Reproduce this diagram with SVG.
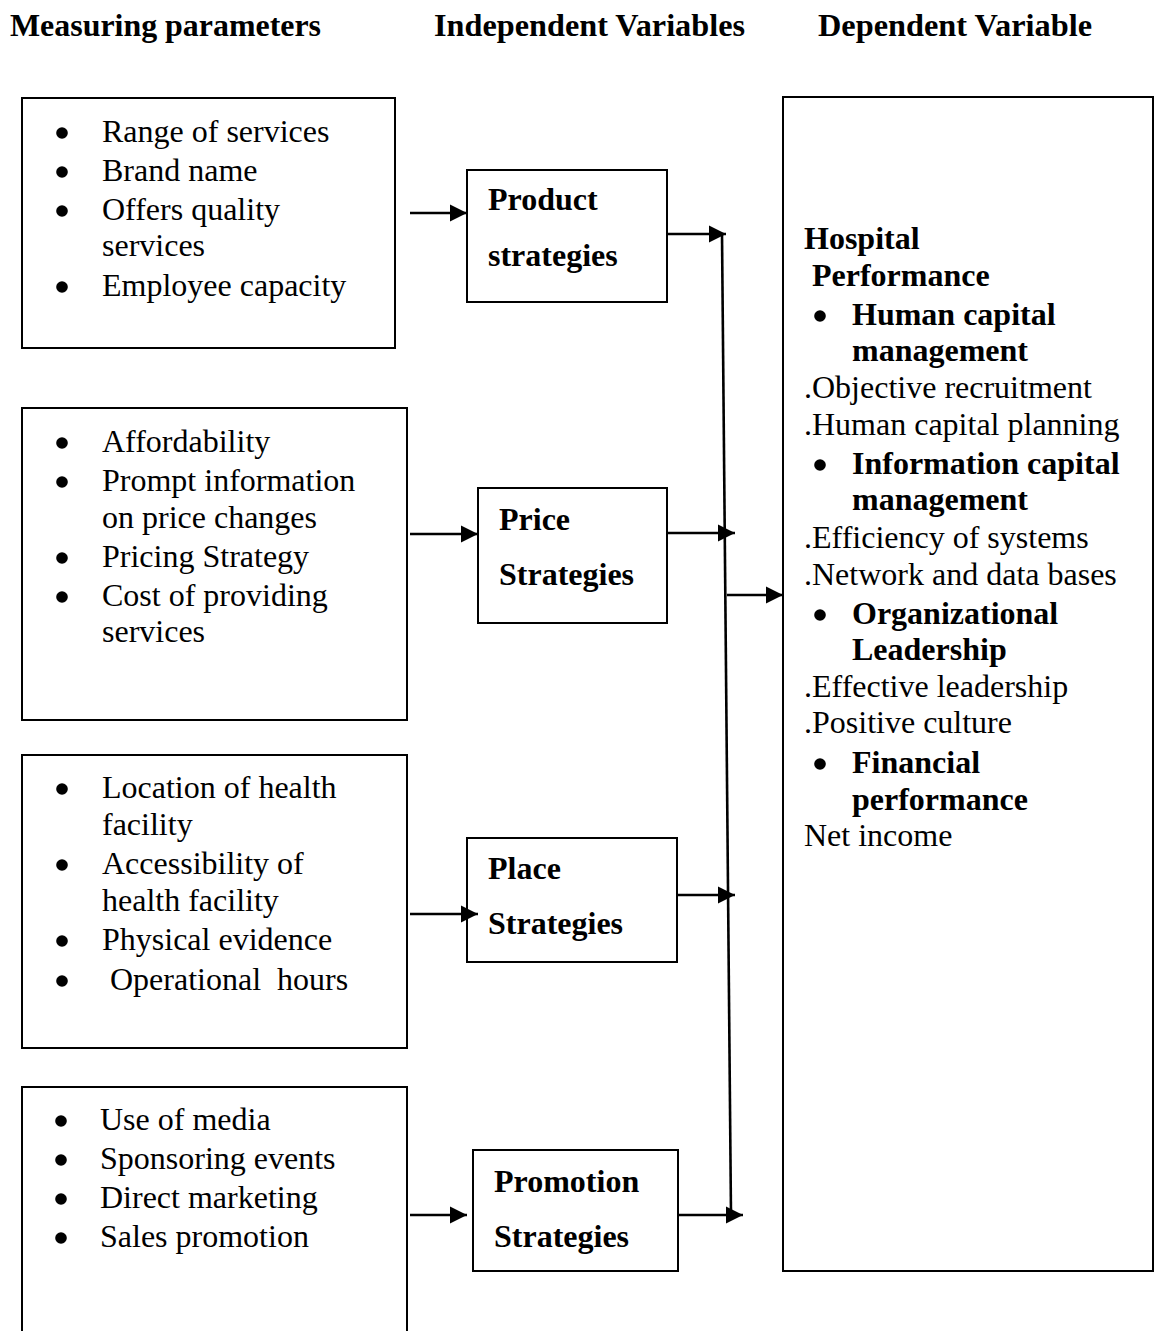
<svg xmlns="http://www.w3.org/2000/svg" width="1154" height="1331" viewBox="0 0 1154 1331">
<style>
text{font-family:"Liberation Serif","Times New Roman",serif;font-size:32px;fill:#000}
.b{font-weight:bold}
.h{font-weight:bold;font-size:31px}
.dot{fill:#000}
.box{fill:#fff;stroke:#000;stroke-width:2}
.con line{stroke:#000;stroke-width:2.6}
</style>
<defs>
<marker id="ah" markerUnits="userSpaceOnUse" markerWidth="22" markerHeight="22" refX="17" refY="8.5" orient="auto" overflow="visible">
<path d="M0,0 L17,8.5 L0,17 z" fill="#000"/>
</marker>
</defs>
<rect width="1154" height="1331" fill="#fff"/>
<g id="headers">
<text class="h" x="10" y="36" textLength="311" lengthAdjust="spacingAndGlyphs">Measuring parameters</text>
<text class="h" x="434" y="36" textLength="311" lengthAdjust="spacingAndGlyphs">Independent Variables</text>
<text class="h" x="818" y="36" textLength="274" lengthAdjust="spacingAndGlyphs">Dependent Variable</text>
</g>
<g id="params-product">
<rect class="box" x="22" y="98" width="373" height="250"/>
<circle class="dot" cx="62" cy="133" r="5.8"/><text x="102" y="142">Range of services</text>
<circle class="dot" cx="62" cy="172" r="5.8"/><text x="102" y="181">Brand name</text>
<circle class="dot" cx="62" cy="211" r="5.8"/><text x="102" y="220">Offers quality</text>
<text x="102" y="256">services</text>
<circle class="dot" cx="62" cy="287" r="5.8"/><text x="102" y="296">Employee capacity</text>
</g>
<g id="params-price">
<rect class="box" x="22" y="408" width="385" height="312"/>
<circle class="dot" cx="62" cy="443" r="5.8"/><text x="102" y="452">Affordability</text>
<circle class="dot" cx="62" cy="482" r="5.8"/><text x="102" y="491">Prompt information</text>
<text x="102" y="528">on price changes</text>
<circle class="dot" cx="62" cy="558" r="5.8"/><text x="102" y="567">Pricing Strategy</text>
<circle class="dot" cx="62" cy="597" r="5.8"/><text x="102" y="606">Cost of providing</text>
<text x="102" y="642">services</text>
</g>
<g id="params-place">
<rect class="box" x="22" y="755" width="385" height="293"/>
<circle class="dot" cx="62" cy="789" r="5.8"/><text x="102" y="798">Location of health</text>
<text x="102" y="835">facility</text>
<circle class="dot" cx="62" cy="865" r="5.8"/><text x="102" y="874">Accessibility of</text>
<text x="102" y="911">health facility</text>
<circle class="dot" cx="62" cy="941" r="5.8"/><text x="102" y="950">Physical evidence</text>
<circle class="dot" cx="62" cy="981" r="5.8"/><text x="110" y="990" xml:space="preserve">Operational  hours</text>
</g>
<g id="params-promotion">
<path class="box" d="M22,1340 L22,1087 L407,1087 L407,1340"/>
<circle class="dot" cx="61" cy="1121" r="5.8"/><text x="100" y="1130">Use of media</text>
<circle class="dot" cx="61" cy="1160" r="5.8"/><text x="100" y="1169">Sponsoring events</text>
<circle class="dot" cx="61" cy="1199" r="5.8"/><text x="100" y="1208">Direct marketing</text>
<circle class="dot" cx="61" cy="1238" r="5.8"/><text x="100" y="1247">Sales promotion</text>
</g>
<g id="product">
<rect class="box" x="467" y="170" width="200" height="132"/>
<text class="b" x="488" y="210">Product</text>
<text class="b" x="488" y="266">strategies</text>
</g>
<g id="price">
<rect class="box" x="478" y="488" width="189" height="135"/>
<text class="b" x="499" y="530">Price</text>
<text class="b" x="499" y="585">Strategies</text>
</g>
<g id="place">
<rect class="box" x="467" y="838" width="210" height="124"/>
<text class="b" x="488" y="879">Place</text>
<text class="b" x="488" y="934">Strategies</text>
</g>
<g id="promotion">
<rect class="box" x="473" y="1150" width="205" height="121"/>
<text class="b" x="494" y="1192">Promotion</text>
<text class="b" x="494" y="1247">Strategies</text>
</g>
<g id="performance">
<rect class="box" x="783" y="97" width="370" height="1174"/>
<text class="b" x="804" y="249">Hospital</text>
<text class="b" x="812" y="286">Performance</text>
<circle class="dot" cx="820" cy="316" r="5.8"/><text class="b" x="852" y="325">Human capital</text>
<text class="b" x="852" y="361">management</text>
<text x="804" y="398">.Objective recruitment</text>
<text x="804" y="435">.Human capital planning</text>
<circle class="dot" cx="820" cy="465" r="5.8"/><text class="b" x="852" y="474">Information capital</text>
<text class="b" x="852" y="510">management</text>
<text x="804" y="548">.Efficiency of systems</text>
<text x="804" y="585">.Network and data bases</text>
<circle class="dot" cx="820" cy="615" r="5.8"/><text class="b" x="852" y="624">Organizational</text>
<text class="b" x="852" y="660">Leadership</text>
<text x="804" y="697">.Effective leadership</text>
<text x="804" y="733">.Positive culture</text>
<circle class="dot" cx="820" cy="764" r="5.8"/><text class="b" x="852" y="773">Financial</text>
<text class="b" x="852" y="810">performance</text>
<text x="804" y="846">Net income</text>
</g>
<g id="connectors" class="con">
<line x1="410" y1="213" x2="467" y2="213" marker-end="url(#ah)"/>
<line x1="410" y1="534" x2="478" y2="534" marker-end="url(#ah)"/>
<line x1="410" y1="914" x2="478" y2="914" marker-end="url(#ah)"/>
<line x1="410" y1="1215" x2="467" y2="1215" marker-end="url(#ah)"/>
<line x1="667" y1="234" x2="726" y2="234" marker-end="url(#ah)"/>
<line x1="667" y1="533" x2="735" y2="533" marker-end="url(#ah)"/>
<line x1="677" y1="895" x2="735" y2="895" marker-end="url(#ah)"/>
<line x1="678" y1="1215" x2="743" y2="1215" marker-end="url(#ah)"/>
<line x1="722" y1="234" x2="731" y2="1215"/>
<line x1="727" y1="595" x2="783" y2="595" marker-end="url(#ah)"/>
</g>
</svg>
